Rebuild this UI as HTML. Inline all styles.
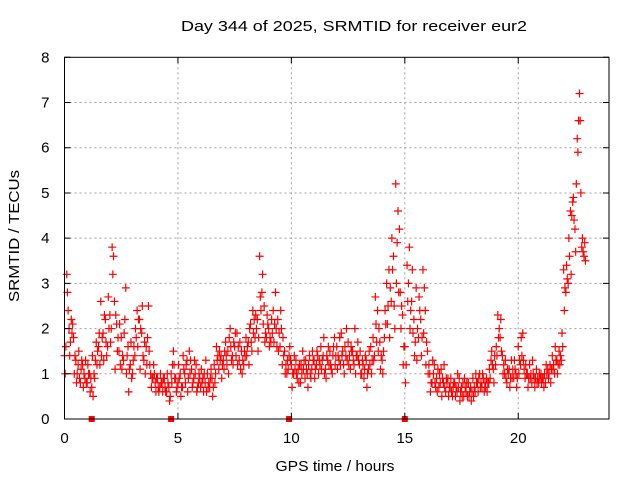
<!DOCTYPE html>
<html><head><meta charset="utf-8">
<style>
html,body{margin:0;padding:0;background:#fff;}
svg{display:block;font-family:"Liberation Sans",sans-serif;}
</style></head>
<body>
<svg id="chart" width="640" height="480" viewBox="0 0 640 480">
<rect width="640" height="480" fill="#fff"/>
<g id="grid"></g>
<g id="pts"></g>
<g id="axes"></g>
<text x="354" y="31" font-size="15" text-anchor="middle" textLength="346" lengthAdjust="spacingAndGlyphs" fill="#000">Day 344 of 2025, SRMTID for receiver eur2</text>
<text x="335" y="471" font-size="15" text-anchor="middle" textLength="119" lengthAdjust="spacingAndGlyphs" fill="#000">GPS time / hours</text>
<text transform="translate(19,236) rotate(-90)" font-size="15" text-anchor="middle" textLength="132" lengthAdjust="spacingAndGlyphs" fill="#000">SRMTID / TECUs</text>
</svg>
<script>
const xTicks=[0,5,10,15,20];
const yTicks=[0,1,2,3,4,5,6,7,8];
const seriesA=[1.4,3.2,2.0,2.2,1.8,1.3,1.2,0.8,1.2,0.9,0.8,1.0,0.7,1.0,1.7,1.6,2.6,1.9,2.2,1.6,2.3,3.8,2.6,2.1,1.5,1.8,1.3,2.9,1.6,1.2,1.0,1.4,2.4,2.2,1.9,1.3,1.6,2.5,1.0,0.9,0.8,0.9,0.7,0.8,0.9,0.6,0.7,1.0,1.5,0.9,0.8,1.0,0.7,1.0,1.3,1.5,1.1,0.9,1.2,0.8,0.7,0.9,0.8,1.0,0.7,0.9,1.2,1.6,1.1,1.4,1.3,1.7,1.5,2.0,1.4,1.6,1.9,1.3,1.5,1.2,1.8,1.7,2.1,2.4,1.8,2.2,3.6,2.8,2.5,1.8,2.0,1.7,2.4,2.8,2.2,1.6,1.2,1.5,1.0,1.4,1.2,1.0,1.3,1.1,0.8,1.5,0.9,1.0,1.4,1.1,1.3,1.2,1.0,1.6,1.4,1.1,1.3,1.5,1.0,1.8,1.6,1.3,1.9,1.2,1.4,1.7,1.1,1.5,2.0,1.4,1.2,1.0,0.9,1.3,1.1,1.6,1.8,2.7,2.4,1.7,1.3,1.8,3.0,3.3,2.6,3.6,5.2,4.6,2.8,2.3,1.6,3.4,3.8,2.6,2.2,2.9,1.8,2.2,3.3,2.4,1.5,1.0,0.8,1.2,0.9,0.7,1.1,0.8,0.6,0.9,0.7,0.5,0.8,0.6,0.9,0.7,0.5,0.6,0.8,0.7,0.9,0.6,0.8,1.0,0.7,0.6,0.9,0.8,1.3,1.1,1.2,2.3,1.8,1.4,1.0,0.8,1.1,1.3,0.9,1.0,1.6,1.2,1.9,0.9,1.0,1.2,0.8,0.9,1.1,0.8,1.0,0.9,0.8,1.1,1.2,1.4,1.0,1.3,1.5,1.3,3.3,2.8,3.0,4.6,4.8,4.2,6.2,7.2,3.8,3.6];
const seriesB=[1.0,2.8,1.4,1.9,1.0,0.8,1.5,1.1,0.7,1.3,1.2,0.6,1.4,0.9,1.2,1.9,1.4,1.3,1.7,2.7,1.7,3.2,1.1,1.5,2.1,1.1,1.9,1.0,0.6,1.7,1.3,2.0,1.6,1.1,2.5,1.7,1.2,1.5,0.7,1.2,0.6,0.7,1.0,0.6,0.7,1.0,0.4,0.8,1.2,0.6,1.2,0.5,1.4,0.8,0.6,1.0,0.7,1.3,0.6,1.0,1.1,0.6,1.3,0.7,0.9,0.5,0.8,1.3,1.5,0.9,1.1,1.4,1.0,1.6,1.2,1.9,1.2,1.7,1.0,1.5,1.4,1.2,1.7,1.9,2.3,1.5,2.7,3.2,1.7,2.3,1.6,2.2,1.7,2.0,1.5,2.4,1.8,1.0,1.3,1.6,0.7,1.4,1.0,0.8,1.2,1.1,1.3,0.7,1.0,1.5,0.9,1.5,1.3,1.1,1.8,0.9,1.6,1.2,1.4,1.2,1.1,1.8,1.4,1.0,2.0,1.2,1.6,1.3,1.0,1.7,1.5,1.3,1.1,0.7,1.5,1.0,1.3,2.1,1.5,1.1,1.0,2.4,2.1,1.8,4.0,2.5,3.0,2.8,2.0,1.2,0.8,2.6,2.0,3.3,1.4,1.3,2.7,1.4,1.9,1.2,1.0,0.6,1.3,0.8,0.6,1.0,0.5,1.2,0.9,0.5,0.9,0.7,0.5,1.0,0.4,0.5,0.9,0.8,0.5,0.4,0.5,1.0,0.6,0.7,1.0,0.8,0.6,1.1,1.5,0.8,1.6,1.8,2.2,1.0,1.3,1.1,0.7,0.9,1.3,0.7,1.0,1.8,1.3,1.2,0.7,0.9,1.3,0.7,0.8,1.0,0.8,0.7,1.2,0.9,0.8,1.1,1.6,1.0,1.2,1.9,2.4,3.4,4.0,3.2,4.9,3.7,5.9,6.6,4.0,3.9];
const seriesC=[1.6,2.4,1.7,2.1,1.4,1.0,0.9,1.3,1.0,0.8,1.0,0.9,0.5,1.3,1.5,1.2,1.8,2.3,1.4,2.0,2.0,3.6,2.3,1.8,1.2,1.4,2.2,1.4,1.1,0.9,1.6,1.8,2.2,2.0,1.4,1.0,1.8,1.2,0.9,1.0,0.9,0.6,0.8,0.9,0.6,0.8,0.5,1.2,0.9,0.7,0.9,0.7,1.1,1.2,0.9,1.3,0.8,1.0,0.7,0.9,0.8,1.0,0.6,0.8,1.1,0.7,1.0,1.4,1.3,1.2,1.5,1.2,1.8,1.3,1.7,1.4,1.6,1.1,1.3,1.4,1.6,2.0,1.5,2.2,2.0,1.8,2.4,2.1,1.9,2.1,1.8,1.9,2.1,1.6,1.9,2.0,1.4,1.2,1.1,1.3,1.0,1.1,0.9,1.2,1.0,1.3,1.1,1.2,0.9,1.3,1.1,1.4,1.2,1.3,1.0,1.4,1.2,1.1,1.6,1.4,1.4,1.2,1.5,1.6,1.3,1.4,1.5,1.2,1.4,1.3,1.0,1.2,1.4,1.0,1.2,1.3,1.4,1.7,2.0,1.4,1.5,2.1,2.5,2.9,3.3,2.0,3.9,4.2,2.5,1.6,1.2,3.0,2.4,1.9,1.7,2.0,2.4,1.8,2.9,1.7,1.2,0.8,1.0,0.7,1.1,0.8,0.9,0.7,0.8,0.7,0.6,0.8,0.7,0.7,0.6,0.8,0.7,0.5,0.6,0.6,0.7,0.8,0.9,0.8,0.9,0.7,0.8,0.9,1.2,1.4,1.4,2.0,1.5,1.2,0.9,1.0,0.9,1.1,1.1,0.9,1.3,1.4,1.1,1.0,0.9,1.0,1.0,0.9,0.9,0.9,0.9,1.0,1.0,1.0,1.1,1.2,1.3,1.2,1.4,1.6,2.9,3.1,3.6,4.5,4.4,5.2,6.6,5.0,3.7,3.5];
const markerTimes=[1.2,4.7,9.9,15.0];
const timeStep=0.1;

const L=64.5,R=609,T=57.3,B=419;
const xMax=24,yMax=8;
const xs=t=>L+(R-L)*t/xMax;
const ys=v=>B-(B-T)*v/yMax;
const NS="http://www.w3.org/2000/svg";
function mk(tag,attrs,parent){const e=document.createElementNS(NS,tag);for(const k in attrs)e.setAttribute(k,attrs[k]);parent.appendChild(e);return e;}
const grid=document.getElementById('grid'),pts=document.getElementById('pts'),axes=document.getElementById('axes');

xTicks.forEach(t=>{
  if(t>0){const g=mk('line',{x1:xs(t),x2:xs(t),y1:T,y2:B,stroke:'#a0a0a0','stroke-width':1,'stroke-dasharray':'2,3'},grid);
  
  }
  const tk=mk('path',{d:`M${xs(t)},${B}v-6M${xs(t)},${T}v6`,stroke:'#000','stroke-width':1},axes);
  
  
  const lb=mk('text',{x:xs(t),y:B+24,'font-size':15,'text-anchor':'middle',fill:'#000'},axes);
  lb.textContent=t;
  
  
});
yTicks.forEach(v=>{
  if(v>0&&v<yMax){const g=mk('line',{x1:L,x2:R,y1:ys(v),y2:ys(v),stroke:'#a0a0a0','stroke-width':1,'stroke-dasharray':'2,3'},grid);
  
  }
  const tk=mk('path',{d:`M${L},${ys(v)}h6M${R},${ys(v)}h-6`,stroke:'#000','stroke-width':1},axes);
  
  
  const lb=mk('text',{x:L-15,y:ys(v)+5,'font-size':15,'text-anchor':'end',fill:'#000'},axes);
  lb.textContent=v;
  
  
});
const frame=mk('rect',{x:L,y:T,width:R-L,height:B-T,fill:'none',stroke:'#000','stroke-width':1},axes);



function plot(arr,offset,name){
  let d='';
  arr.forEach((v,i)=>{const x=xs(i*timeStep+offset),y=ys(v);d+=`M${x-4},${y}h8M${x},${y-4}v8`;});
  const p=mk('path',{d:d,stroke:'#ff0000','stroke-width':1.2,fill:'none'},pts);
  
  
}
plot(seriesA,0,'srmtid-points-a');
plot(seriesB,0.03,'srmtid-points-b');
plot(seriesC,0.06,'srmtid-points-c');
markerTimes.forEach(t=>{
  const r=mk('rect',{x:xs(t)-3,y:B-3,width:6,height:6,fill:'#ff0000'},pts);
  
  
});
</script>
</body></html>
